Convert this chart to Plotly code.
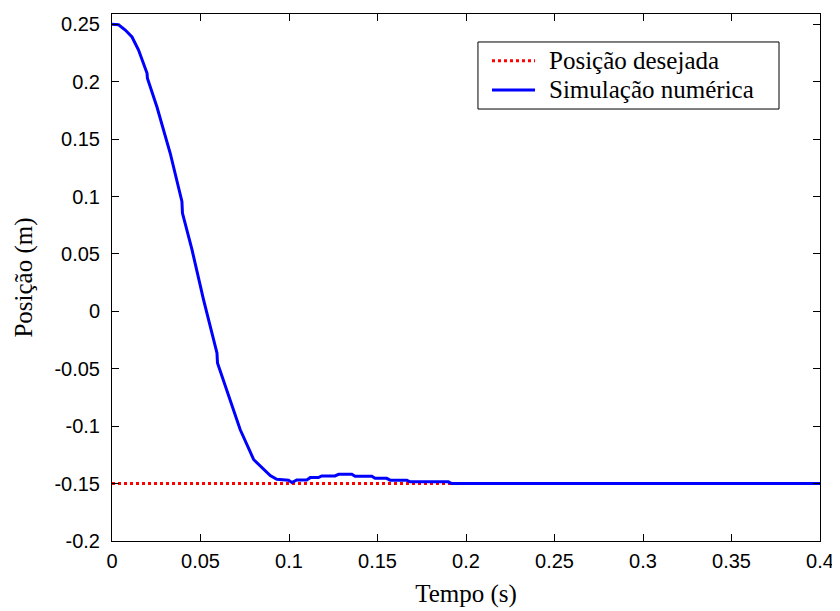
import plotly.graph_objects as go

# Data
tempo = [0, 0.0037, 0.0075, 0.0113, 0.015, 0.0198, 0.0200, 0.0254, 0.0329, 0.0395, 0.0398,
         0.0452, 0.0517, 0.0593, 0.0596, 0.0649, 0.0724, 0.08, 0.0819, 0.0894, 0.0931, 0.0997,
         0.1016, 0.1044, 0.11, 0.112, 0.1166, 0.1185, 0.126, 0.128, 0.1355, 0.1373, 0.1468,
         0.1486, 0.1552, 0.1571, 0.1665, 0.1684, 0.19, 0.1919, 0.4]
posicao_sim = [0.25, 0.2496, 0.245, 0.239, 0.2276, 0.2073, 0.203, 0.178, 0.1377, 0.0957, 0.0856,
               0.0537, 0.0102, -0.0362, -0.0449, -0.0681, -0.1029, -0.129, -0.1318, -0.143, -0.1462,
               -0.147, -0.1491, -0.1468, -0.1468, -0.1448, -0.1448, -0.1433, -0.1433, -0.1419, -0.1419,
               -0.1436, -0.1436, -0.1454, -0.1454, -0.147, -0.147, -0.1485, -0.1485, -0.15, -0.15]
tempo_des = [0, 0.4]
posicao_des = [-0.15, -0.15]

serie_nomes = ["Posição desejada", "Simulação numérica"]
serie_cores = ["#FF0000", "#0000FF"]
serie_tracos = ["dot", "solid"]

x_ticks = [0, 0.05, 0.1, 0.15, 0.2, 0.25, 0.3, 0.35, 0.4]
x_ticktext = ["0", "0.05", "0.1", "0.15", "0.2", "0.25", "0.3", "0.35", "0.4"]
y_ticks = [0.25, 0.2, 0.15, 0.1, 0.05, 0, -0.05, -0.1, -0.15, -0.2]
y_ticktext = ["0.25", "0.2", "0.15", "0.1", "0.05", "0", "-0.05", "-0.1", "-0.15", "-0.2"]

fig = go.Figure()
fig.add_trace(go.Scatter(x=tempo_des, y=posicao_des, mode="lines", name=serie_nomes[0],
                         line=dict(color=serie_cores[0], width=3, dash=serie_tracos[0])))
fig.add_trace(go.Scatter(x=tempo, y=posicao_sim, mode="lines", name=serie_nomes[1],
                         line=dict(color=serie_cores[1], width=3, dash=serie_tracos[1])))

serif = "Liberation Serif, Times New Roman, serif"
tickfont = dict(family="Liberation Sans, Arial, sans-serif", size=20, color="black")
titlefont = dict(family=serif, size=25, color="black")

# Legend box drawn in paper coordinates (MATLAB-style legend)
box_x0, box_x1 = 0.5169, 0.9421
box_y0, box_y1 = 0.8197, 0.9469
sample_x0, sample_x1 = 0.5367, 0.5975
entry_y = [0.9114, 0.8558]
text_x = 0.6150

shapes = [dict(type="rect", xref="paper", yref="paper", x0=box_x0, x1=box_x1, y0=box_y0, y1=box_y1,
               line=dict(color="black", width=1), fillcolor="white", layer="above")]
annotations = []
for nome, cor, traco, yy in zip(serie_nomes, serie_cores, serie_tracos, entry_y):
    shapes.append(dict(type="line", xref="paper", yref="paper", x0=sample_x0, x1=sample_x1, y0=yy, y1=yy,
                       line=dict(color=cor, width=3, dash=traco), layer="above"))
    annotations.append(dict(xref="paper", yref="paper", x=text_x, y=yy, xanchor="left", yanchor="middle",
                            text=nome, showarrow=False,
                            font=dict(family=serif, size=25, color="black")))

fig.update_layout(
    width=832, height=603,
    margin=dict(l=104, r=20, t=6, b=70),
    paper_bgcolor="white", plot_bgcolor="white",
    showlegend=False,
    shapes=shapes, annotations=annotations,
    xaxis=dict(range=[0, 0.4], tickvals=x_ticks, ticktext=x_ticktext,
               ticks="inside", ticklen=7, tickcolor="black", tickwidth=1,
               showline=True, linecolor="black", linewidth=1, mirror="ticks",
               showgrid=False, zeroline=False, tickfont=tickfont,
               ticklabelstandoff=2,
               title=dict(text="Tempo (s)", font=titlefont, standoff=13)),
    yaxis=dict(range=[-0.2, 0.259], tickvals=y_ticks, ticktext=y_ticktext,
               ticks="inside", ticklen=7, tickcolor="black", tickwidth=1,
               showline=True, linecolor="black", linewidth=1, mirror="ticks",
               showgrid=False, zeroline=False, tickfont=tickfont,
               ticklabelstandoff=7,
               title=dict(text="Posição (m)", font=titlefont, standoff=14)),
)

fig.write_html("out.html")
